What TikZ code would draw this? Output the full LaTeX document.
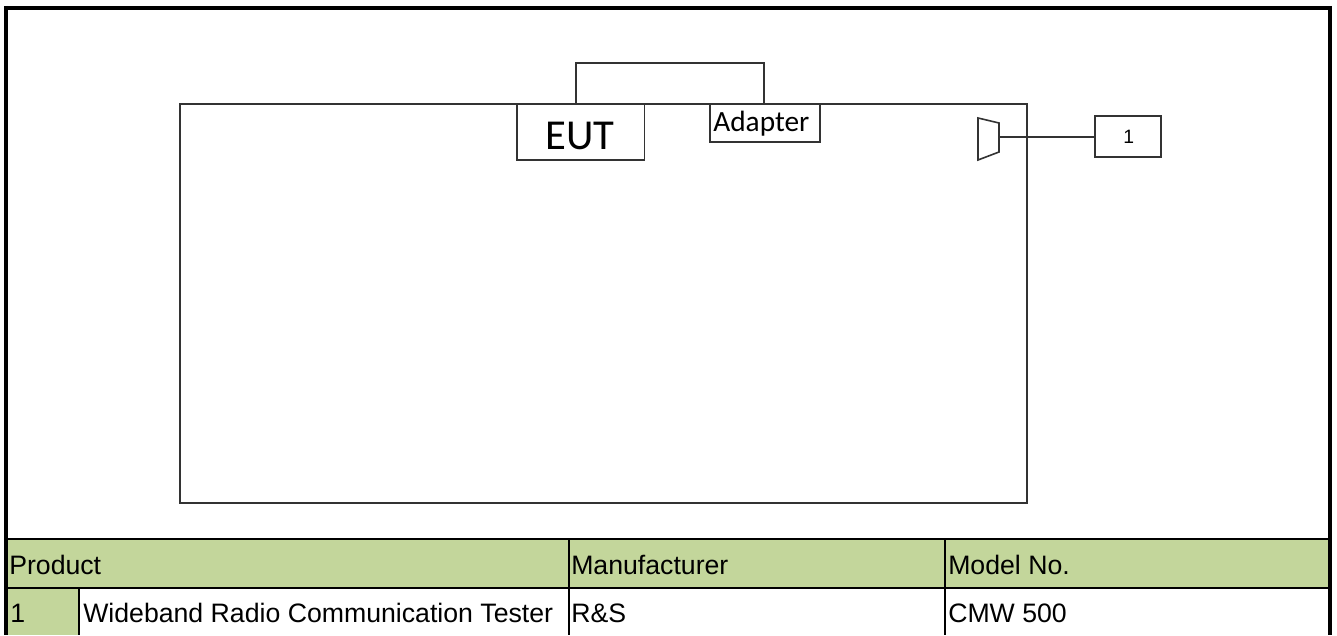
\documentclass[tikz,border=0pt]{standalone}
\usepackage{fontspec}
\setmainfont{Liberation Sans}
\newfontfamily\cfont{Carlito}
\definecolor{hdr}{HTML}{C3D69B}
\definecolor{ln}{HTML}{333333}
\tikzset{
 thin box/.style={draw=ln,line width=1.2pt,fill=white,inner sep=0pt,outer sep=0pt,anchor=north west},
 wire/.style={draw=ln,line width=1.2pt},
 cell/.style={anchor=base west,inner sep=0pt,font=\fontsize{20}{23}\selectfont,text=black},
 rule/.style={draw=black,line width=2.2pt},
}
\begin{document}
\begin{tikzpicture}[x=0.75pt,y=-0.75pt]
\useasboundingbox (0,0) rectangle (1337,635);
\fill[white] (0,0) rectangle (1337,635);
\fill[hdr] (8,539) rectangle (1329,588);
\fill[hdr] (8,588) rectangle (79,635);
\draw[rule] (7,539) -- (1329,539);
\draw[rule] (7,588) -- (1329,588);
\draw[rule] (79,588) -- (79,635);
\draw[rule] (569,539) -- (569,635);
\draw[rule] (945,539) -- (945,635);
\draw[black,line width=3pt] (6,8) -- (1330,8);
\draw[black,line width=3pt] (6,6) -- (6,635);
\draw[black,line width=3pt] (1330,6) -- (1330,635);
\node[cell] (p) at (9,574) {Product};
\node[cell] (m) at (571,574) {Manufacturer};
\node[cell] (n) at (948,574) {Model No.};
\node[cell] (a) at (10,622) {1};
\node[cell] (w) at (83,622) {Wideband Radio Communication Tester};
\node[cell] (r) at (571,622) {R\&S};
\node[cell] (c) at (948,622) {CMW 500};
\node[thin box,minimum width=847pt*0.75,minimum height=399pt*0.75] (room) at (180,104) {};
\node[thin box,minimum width=127.5pt*0.75,minimum height=56pt*0.75,font=\cfont\fontsize{32}{34}\selectfont] (eut) at (517,104) {\hspace{-1pt}\raisebox{-13pt}[0pt][0pt]{EUT}};
\node[thin box,minimum width=110pt*0.75,minimum height=38pt*0.75,font=\cfont\fontsize{22}{25}\selectfont,text=black] (ad) at (710,104) {\hspace{-5.5pt}\raisebox{-6.5pt}[0pt][0pt]{Adapter}};
\coordinate (cl) at (576,104);
\coordinate (cr) at (764,104);
\draw[wire] (cl) -- (576,63) -- (764,63) -- (cr);
\node[thin box,minimum width=66pt*0.75,minimum height=41pt*0.75,font=\fontsize{14.5}{16}\selectfont] (one) at (1095,116) {\hspace{1pt}1};
\coordinate (hr) at (999,137);
\draw[wire] (978,118) -- (999,123) -- (999,152) -- (978,160) -- cycle;
\draw[wire] (hr) -- (hr -| one.west);
\end{tikzpicture}
\end{document}
